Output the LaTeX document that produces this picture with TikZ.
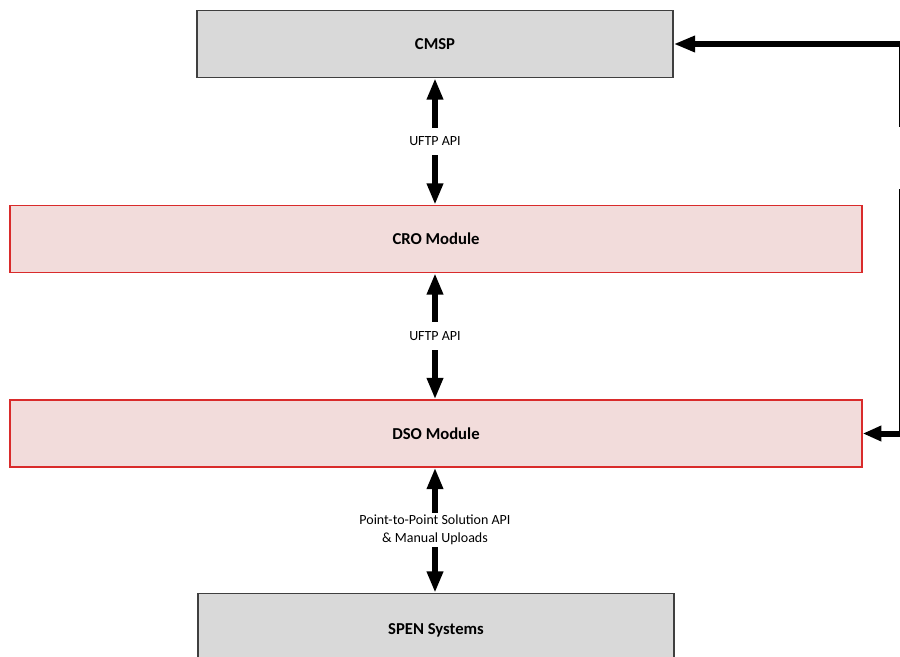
\documentclass[tikz,border=0pt]{standalone}
\usepackage{fontspec}
\setmainfont{Carlito}
\usetikzlibrary{arrows.meta}

\definecolor{boxgray}{HTML}{D9D9D9}
\definecolor{boxgrayline}{HTML}{3F3F3F}
\definecolor{modfill}{HTML}{F2DCDB}
\definecolor{modline}{HTML}{D92B2B}

\tikzset{
  graybox/.style={draw=boxgrayline, fill=boxgray, line width=1.1pt,
    minimum width=357pt, minimum height=50.25pt,
    font=\fontsize{12.5}{15}\selectfont\bfseries},
  modbox/.style={draw=modline, fill=modfill, line width=1.1pt,
    minimum width=639pt, minimum height=50.25pt,
    font=\fontsize{12.5}{15}\selectfont\bfseries},
  link/.style={line width=4.5pt, draw=black,
    {Triangle[length=16pt,width=11.5pt]}-{Triangle[length=16pt,width=11.5pt]}},
  lbl/.style={fill=white, inner xsep=2pt, inner ysep=7pt, align=center,
    font=\fontsize{10.5}{13.5}\selectfont}
}

\begin{document}
\begin{tikzpicture}[x=0.75pt, y=-0.75pt]
  \useasboundingbox (0,0) rectangle (900,657);
  \clip (0,0) rectangle (900,657);
  \fill[white] (0,0) rectangle (900,657);

  % component boxes
  \node[graybox] (cmsp) at (435,44)  {CMSP};
  \node[modbox]  (cro)  at (436,239) {CRO Module};
  \node[modbox]  (dso)  at (436,433.5) {DSO Module};
  \node[graybox, minimum height=55.5pt] (spen) at (436,630.5) {SPEN Systems};

  % vertical interfaces
  \draw[link] (cmsp.south) -- node[lbl] {UFTP API} (cmsp.south |- cro.north);
  \draw[link] (cmsp.south |- cro.south) -- node[lbl] {UFTP API} (cmsp.south |- dso.north);
  \draw[link] (cmsp.south |- dso.south) --
    node[lbl, inner ysep=1.5pt] {Point-to-Point Solution API\\\& Manual Uploads}
    (cmsp.south |- spen.north);

  % side link from DSO module up to CMSP
  \coordinate (rb) at (901.5,433.5);
  \coordinate (rt) at (901.5,44);
  \draw[link, {Triangle[length=14pt,width=11pt]}-{Triangle[length=16pt,width=11.5pt]}]
    (dso.east) -- (rb) -- (rt) -- (cmsp.east);
  \node[lbl, rotate=-90, inner ysep=2pt, inner xsep=4pt] (sidelbl) at (905,158) {UFTP API};
\end{tikzpicture}
\end{document}
